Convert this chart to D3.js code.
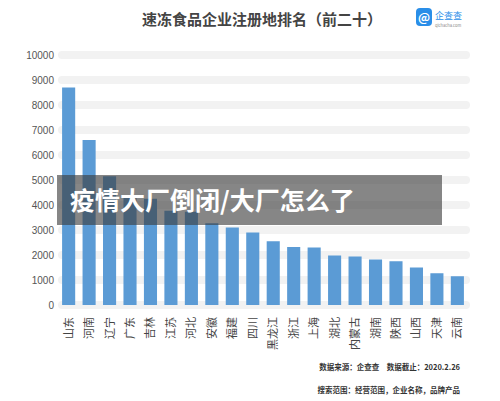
<!DOCTYPE html>
<html><head><meta charset="utf-8">
<script src="https://cdn.jsdelivr.net/npm/d3@7"></script>
<style>body{margin:0;background:#fff;font-family:"Noto Sans CJK SC","Noto Sans",sans-serif}</style>
</head><body><svg id="chart"></svg>
<script>
const provinces = ['山东','河南','辽宁','广东','吉林','江苏','河北','安徽','福建','四川','黑龙江','浙江','上海','湖北','内蒙古','湖南','陕西','山西','天津','云南'];
const counts = [8700,6600,5150,4300,4250,3770,3730,3270,3100,2900,2550,2320,2300,1980,1940,1820,1750,1500,1270,1150];
const yTicks = d3.range(0, 10001, 1000);

const W = 500, H = 401;
const svg = d3.select('#chart').attr('width', W).attr('height', H);
const margin = {top: 55, left: 58, right: 32, bottom: 96};

const x = d3.scaleBand().domain(provinces).range([margin.left, W - margin.right]).paddingInner(0.36).paddingOuter(0.2);
const y = d3.scaleLinear().domain([0, 10000]).range([H - margin.bottom, margin.top]);

// title + logo
svg.append('text').attr('x', 262).attr('y', 25).attr('text-anchor', 'middle')
  .attr('font-size', 15).attr('font-weight', 'bold').attr('fill', '#444')
  .text('速冻食品企业注册地排名（前二十）');
svg.append('rect').attr('x', 416).attr('y', 8).attr('width', 16).attr('height', 18).attr('rx', 4).attr('fill', '#2a8ee8');
svg.append('text').attr('x', 424).attr('y', 22).attr('text-anchor', 'middle').attr('font-size', 12).attr('fill', '#fff').attr('font-weight', 'bold').text('@');
svg.append('text').attr('x', 435).attr('y', 19).attr('font-size', 9).attr('fill', '#2a8ee8').text('企查查');
svg.append('text').attr('x', 435).attr('y', 27).attr('font-size', 4).attr('fill', '#888').text('qichacha.com');

// grid bands
svg.append('g').selectAll('rect').data(yTicks).join('rect')
  .attr('x', margin.left).attr('width', W - margin.right - margin.left + 2)
  .attr('y', d => y(d) - 4).attr('height', 8).attr('rx', 4).attr('fill', '#f2f2f2');

const yAxis = svg.append('g').attr('transform', `translate(${margin.left - 4},0)`)
  .call(d3.axisLeft(y).tickValues(yTicks).tickFormat(d3.format('d')).tickSize(0).tickPadding(0));
yAxis.select('.domain').remove();
yAxis.selectAll('text').attr('font-size', 10).attr('fill', '#555').attr('font-family', 'Liberation Sans, sans-serif');

svg.append('g').selectAll('rect').data(counts).join('rect')
  .attr('x', (d, i) => x(provinces[i])).attr('width', x.bandwidth())
  .attr('y', d => y(d)).attr('height', d => y(0) - y(d)).attr('fill', '#5b9bd5');

// rotated x labels
svg.append('g').selectAll('text').data(provinces).join('text')
  .attr('transform', d => `translate(${x(d) + x.bandwidth() / 2 + 4},${y(0) + 12}) rotate(-90)`)
  .attr('text-anchor', 'end').attr('font-size', 11).attr('fill', '#444')
  .text(d => d);

svg.append('text').attr('x', 460).attr('y', 370).attr('text-anchor', 'end').attr('font-size', 7.5).attr('fill', '#333').attr('font-weight', 'bold')
  .text('数据来源：企查查　数据截止：2020.2.26');
svg.append('text').attr('x', 460).attr('y', 393).attr('text-anchor', 'end').attr('font-size', 7.5).attr('fill', '#333').attr('font-weight', 'bold')
  .text('搜索范围：经营范围，企业名称，品牌产品');

// overlay banner
svg.append('rect').attr('x', 57).attr('y', 175).attr('width', 385).attr('height', 50).attr('fill', 'rgba(60,60,60,0.62)');
svg.append('text').attr('x', 70).attr('y', 210).attr('font-size', 25).attr('font-weight', 'bold').attr('fill', '#fff')
  .text('疫情大厂倒闭/大厂怎么了');
</script></body></html>
